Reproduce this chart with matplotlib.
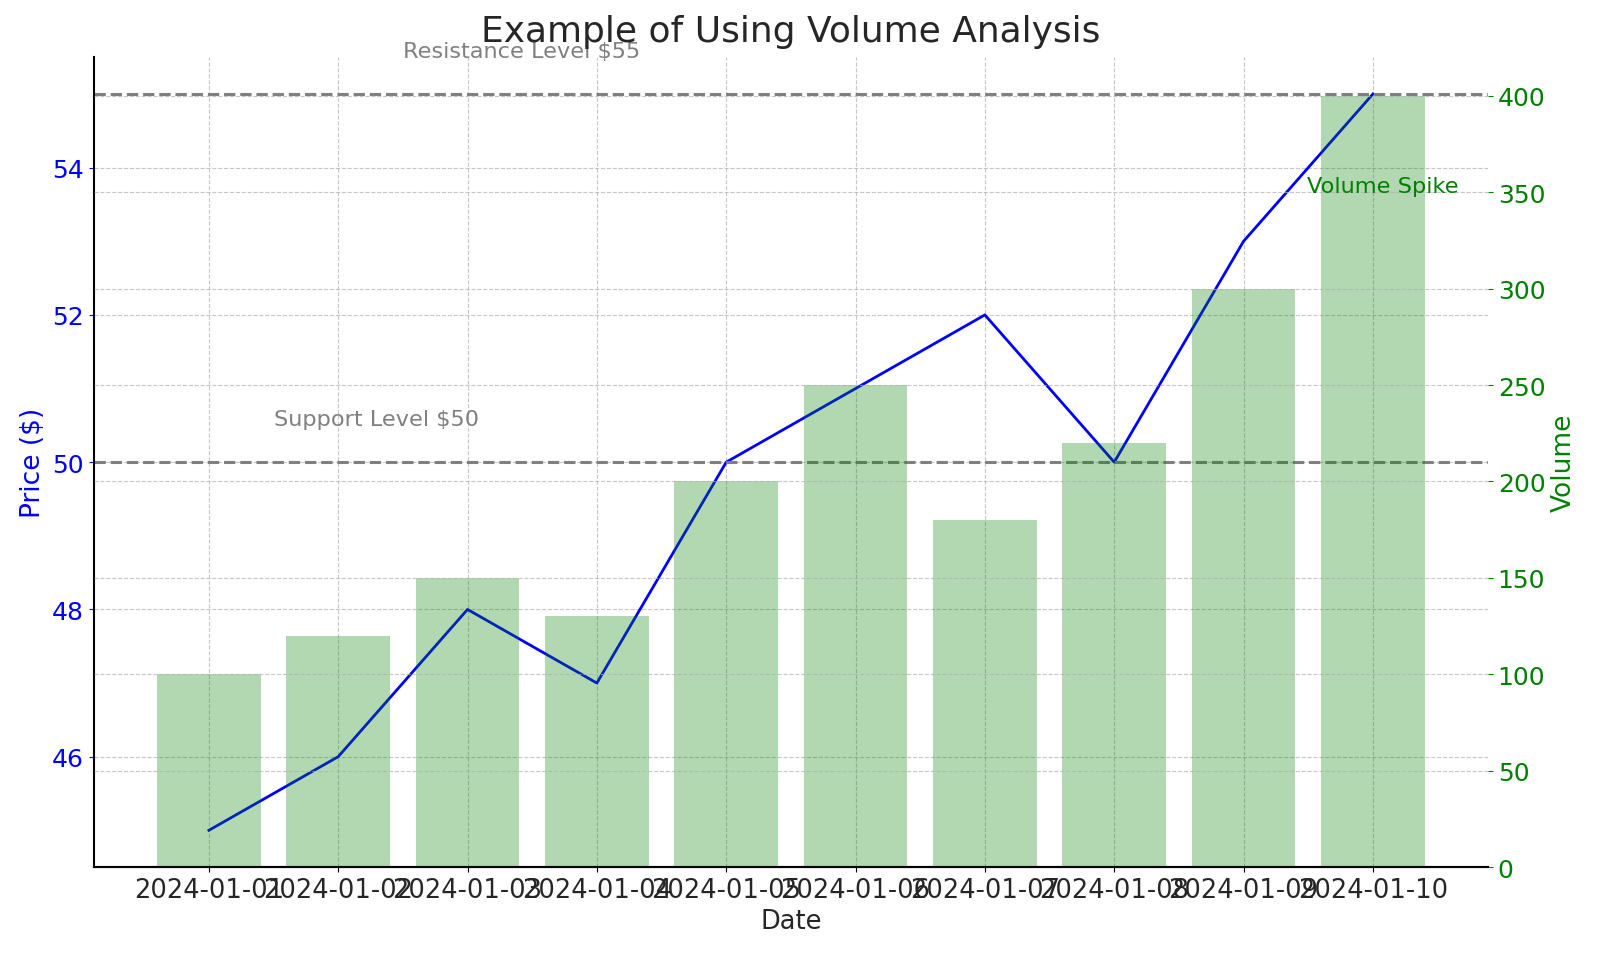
import matplotlib
matplotlib.use("Agg")
import matplotlib.pyplot as plt

# === Data ===
dates = ["2024-01-01", "2024-01-02", "2024-01-03", "2024-01-04", "2024-01-05",
         "2024-01-06", "2024-01-07", "2024-01-08", "2024-01-09", "2024-01-10"]
prices = [45, 46, 48, 47, 50, 51, 52, 50, 53, 55]
volumes = [100, 120, 150, 130, 200, 250, 180, 220, 300, 400]
support_level = 50
resistance_level = 55

dark = "#262626"

# === Plot ===
fig, ax1 = plt.subplots(figsize=(16, 9.54), dpi=100)
fig.subplots_adjust(left=0.0586, right=0.930, top=0.939, bottom=0.090)

ax1.plot(dates, prices, color="blue", linewidth=2)
ax1.axhline(support_level, color="gray", linestyle="--", linewidth=2.2)
ax1.axhline(resistance_level, color="gray", linestyle="--", linewidth=2.2)
ax1.text(0.5, support_level + 0.5, f"Support Level ${support_level}", color="gray", fontsize=16.1)
ax1.text(1.5, resistance_level + 0.5, f"Resistance Level ${resistance_level}", color="gray", fontsize=16.1)

ax1.set_xlabel("Date", fontsize=18.5, color=dark)
ax1.set_ylabel("Price ($)", color="blue", fontsize=19)
ax1.tick_params(axis="y", labelcolor="blue", color="blue", labelsize=18)
ax1.tick_params(axis="x", labelsize=18.5, labelcolor=dark)
ax1.grid(True, linestyle="--", alpha=0.7)
for s in ["top", "right"]:
    ax1.spines[s].set_visible(False)
ax1.spines["left"].set_linewidth(1.5)
ax1.spines["bottom"].set_linewidth(1.5)

ax2 = ax1.twinx()
ax2.bar(dates, volumes, color="green", alpha=0.3, width=0.8)
ax2.text(9.08, 350, "Volume Spike", color="green", ha="center", fontsize=16.2)
ax2.set_ylabel("Volume", color="green", fontsize=19)
ax2.tick_params(axis="y", labelcolor="green", color="green", labelsize=18)
ax2.grid(True, linestyle="--", alpha=0.7)
for s in ["top", "right", "left"]:
    ax2.spines[s].set_visible(False)
ax2.spines["bottom"].set_linewidth(1.5)

plt.title("Example of Using Volume Analysis", fontsize=25.9, color=dark, pad=12)
plt.savefig("out.png", dpi=100)
